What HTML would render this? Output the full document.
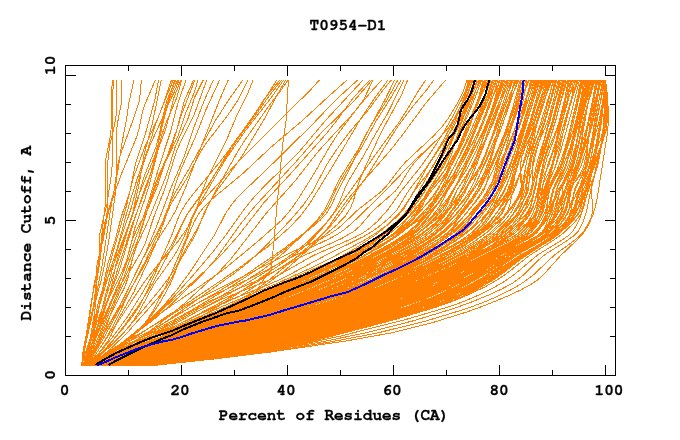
<!DOCTYPE html>
<html><head><meta charset="utf-8"><style>
html,body{margin:0;padding:0;background:#fff;width:680px;height:440px;overflow:hidden}
svg{display:block}
</style></head><body>
<svg width="680" height="440" viewBox="0 0 680 440">
<rect width="680" height="440" fill="#fff"/>
<g shape-rendering="crispEdges">
<path fill="none" stroke="#ff8000" stroke-width="1" d="M112.3 80.0 L111.6 94.0 L111.0 130.2 L109.9 139.2 L106.0 158.3 L105.8 200.4 L102.2 230.5 L100.9 252.6 L99.6 260.6 L94.4 282.7 L89.0 320.8 L87.5 335.9 L81.2 366.0 M113.7 80.0 L112.3 98.1 L112.3 162.3 L111.7 172.3 L106.9 204.4 L100.1 232.5 L99.3 240.6 L99.0 258.6 L98.2 266.7 L91.0 303.8 L81.5 366.0 M116.6 80.0 L116.6 106.1 L116.0 116.1 L114.5 125.2 L109.6 146.2 L107.5 164.3 L107.4 206.4 L106.9 214.5 L100.6 245.6 L97.6 275.7 L92.1 315.8 L85.2 345.9 L81.8 366.0 M121.9 80.0 L121.8 101.1 L117.7 122.1 L116.2 133.2 L116.1 182.4 L115.0 196.4 L108.8 240.6 L104.4 265.6 L101.0 280.7 L84.5 342.9 L82.9 353.0 L82.1 366.0 M134.0 80.0 L129.0 102.1 L126.2 121.1 L121.9 143.2 L118.3 168.3 L111.2 205.4 L102.2 264.6 L95.8 296.8 L87.7 329.9 L82.3 366.0 M141.4 80.0 L139.5 100.1 L133.7 118.1 L119.8 156.3 L117.4 167.3 L114.0 191.4 L104.9 222.5 L102.7 236.5 L100.1 259.6 L96.8 280.7 L95.7 302.8 L94.7 311.8 L88.5 348.9 L86.2 357.0 L82.6 366.0 M155.4 80.0 L144.6 105.1 L142.4 112.1 L138.9 129.2 L136.6 137.2 L120.9 175.3 L111.1 203.4 L107.7 214.5 L103.0 240.6 L97.6 261.6 L96.2 269.7 L95.8 299.8 L92.7 334.9 L88.4 350.9 L82.9 366.0 M158.5 80.0 L154.8 100.1 L144.7 136.2 L135.3 164.3 L130.0 191.4 L121.3 216.5 L115.4 239.6 L107.9 263.6 L95.4 322.8 L87.9 347.9 L83.2 366.0 M161.3 80.0 L152.4 123.2 L144.2 154.3 L139.0 184.4 L132.6 213.5 L129.7 222.5 L114.7 261.6 L103.7 286.7 L100.3 295.8 L97.8 304.8 L92.7 330.9 L85.2 353.0 L83.5 366.0 M171.5 80.0 L162.9 105.1 L155.2 125.2 L148.2 148.2 L137.7 177.3 L132.2 194.4 L126.3 214.5 L118.3 244.6 L109.6 271.7 L95.1 320.8 L83.7 366.0 M173.2 80.0 L158.7 116.1 L144.7 147.2 L133.2 178.3 L125.8 208.4 L113.7 249.6 L103.9 285.7 L99.1 306.8 L92.6 340.9 L88.4 355.0 L84.0 366.0 M174.6 80.0 L163.8 115.1 L149.6 146.2 L144.8 159.3 L138.0 182.4 L131.4 207.4 L118.5 245.6 L94.9 335.9 L87.1 357.0 L84.3 366.0 M175.9 80.0 L167.0 100.1 L164.1 111.1 L159.2 135.2 L155.9 147.2 L143.8 177.3 L136.7 203.4 L127.8 229.5 L120.6 253.6 L112.2 276.7 L103.7 304.8 L88.8 343.9 L86.8 352.0 L84.6 366.0 M177.7 80.0 L173.5 89.0 L169.1 100.1 L164.1 118.1 L157.9 145.2 L154.7 156.3 L138.7 195.4 L119.3 252.6 L116.2 263.6 L111.7 285.7 L108.4 297.8 L91.0 346.9 L84.9 366.0 M179.0 80.0 L174.7 91.0 L167.9 105.1 L164.0 115.1 L160.5 129.2 L156.7 154.3 L154.5 163.3 L145.7 186.4 L134.8 218.5 L118.9 271.7 L103.7 308.8 L97.0 326.9 L85.1 366.0 M180.7 80.0 L173.8 98.1 L166.0 128.2 L155.1 157.3 L147.9 183.4 L132.6 223.5 L118.8 265.6 L109.4 296.8 L94.6 335.9 L85.4 366.0 M181.6 80.0 L177.0 97.1 L166.3 122.1 L161.7 135.2 L149.4 184.4 L145.1 198.4 L135.0 227.5 L129.1 251.6 L126.2 261.6 L120.9 274.7 L110.9 293.7 L107.3 301.8 L99.9 325.9 L90.0 348.9 L85.7 366.0 M186.0 80.0 L177.9 103.1 L170.1 133.2 L159.8 164.3 L147.4 205.4 L123.3 272.7 L95.9 335.9 L86.0 366.0 M193.6 80.0 L184.6 100.1 L176.9 129.2 L167.9 154.3 L157.7 185.4 L148.6 207.4 L136.8 229.5 L133.1 237.6 L130.1 246.6 L124.8 267.7 L121.5 277.7 L96.1 337.9 L86.0 366.0 M194.9 80.0 L181.3 115.1 L171.6 147.2 L159.9 172.3 L155.2 184.4 L139.9 232.5 L130.8 264.6 L126.3 274.7 L116.5 291.7 L112.1 300.8 L99.3 334.9 L86.3 366.0 M198.0 80.0 L194.5 92.0 L186.1 112.1 L177.9 136.2 L164.4 164.3 L158.6 178.3 L148.5 206.4 L140.3 233.5 L130.7 257.6 L121.2 284.7 L107.9 315.8 L96.2 345.9 L86.5 366.0 M203.3 80.0 L194.7 97.1 L188.2 118.1 L175.4 146.2 L168.4 169.3 L164.8 179.3 L148.7 219.5 L136.0 247.6 L132.8 257.6 L128.0 277.7 L124.9 286.7 L108.1 319.8 L96.8 346.9 L86.7 366.0 M206.8 80.0 L194.3 114.1 L180.4 142.2 L176.1 152.3 L165.0 188.4 L154.0 216.5 L145.1 243.6 L141.2 251.6 L129.1 272.7 L121.5 287.7 L113.6 305.8 L103.3 335.9 L86.9 366.0 M213.4 80.0 L204.4 100.1 L193.6 128.2 L184.3 156.3 L171.2 187.4 L156.9 225.5 L144.8 254.6 L123.0 299.8 L97.2 344.9 L87.2 366.0 M219.6 80.0 L205.8 110.1 L195.7 136.2 L180.5 170.3 L175.8 183.4 L168.1 208.4 L161.6 224.5 L142.8 258.6 L117.4 310.8 L97.8 344.9 L87.4 366.0 M228.2 80.0 L220.7 97.1 L198.5 153.3 L186.5 185.4 L176.2 209.5 L170.1 220.5 L155.3 243.6 L142.4 268.7 L130.2 289.7 L104.9 335.9 L92.3 357.0 L87.7 366.0 M242.9 80.0 L228.5 100.1 L215.1 121.1 L190.4 166.3 L175.3 192.4 L168.5 206.4 L158.5 232.5 L145.6 260.6 L130.0 290.7 L114.8 322.8 L105.2 339.9 L87.9 366.0 M248.1 80.0 L238.0 100.1 L234.7 105.1 L225.6 118.1 L207.7 141.2 L201.5 150.2 L186.9 178.3 L171.9 202.4 L167.1 212.5 L158.9 236.5 L147.1 263.6 L134.0 291.7 L119.7 316.8 L110.8 335.9 L107.9 340.9 L101.4 349.9 L88.1 366.0 M253.1 80.0 L247.6 94.0 L236.5 116.1 L226.0 141.2 L207.0 179.3 L202.5 190.4 L195.2 212.5 L189.0 225.5 L177.9 241.6 L155.4 267.7 L144.5 281.7 L122.0 315.8 L96.5 353.0 L88.3 366.0 M276.8 80.0 L259.1 108.1 L232.2 145.2 L209.0 184.4 L187.8 213.5 L171.7 244.6 L156.6 267.7 L143.1 291.7 L127.5 316.8 L113.6 335.9 L88.6 366.0 M279.7 80.0 L264.3 99.1 L248.1 124.2 L220.5 161.3 L192.9 194.4 L185.4 204.4 L179.1 215.5 L172.0 234.5 L155.9 271.7 L145.8 293.7 L138.8 306.8 L131.4 317.8 L121.8 329.9 L103.4 350.9 L88.8 366.0 M281.7 80.0 L268.9 96.1 L256.4 114.1 L238.2 138.2 L207.7 185.4 L188.1 212.5 L183.7 220.5 L177.5 235.5 L171.2 248.6 L153.1 282.7 L141.2 301.8 L125.6 323.9 L111.3 342.9 L101.4 354.0 L89.0 366.0 M283.6 80.0 L272.4 96.1 L245.1 131.2 L227.0 157.3 L195.8 209.5 L191.0 219.5 L183.4 238.6 L177.9 249.6 L172.2 258.6 L153.6 284.7 L139.0 311.8 L133.4 320.8 L121.3 335.9 L89.2 366.0 M285.8 80.0 L277.7 94.0 L264.3 119.1 L243.1 154.3 L235.0 166.3 L216.4 191.4 L209.9 201.4 L204.8 211.5 L197.6 229.5 L193.7 237.6 L184.4 253.6 L169.7 276.7 L159.1 290.7 L127.2 328.9 L113.7 342.9 L89.5 366.0 M288.0 80.0 L281.9 89.0 L268.0 107.1 L244.9 140.2 L238.5 150.2 L213.8 194.4 L196.7 229.5 L184.1 251.6 L172.5 276.7 L165.9 287.7 L157.2 298.8 L126.2 333.9 L109.3 349.9 L89.7 366.0 M319.4 80.0 L308.6 92.0 L289.7 110.1 L239.5 160.3 L206.7 196.4 L198.5 206.4 L192.8 216.5 L186.5 237.6 L165.6 286.7 L153.0 310.8 L148.0 318.8 L142.9 325.9 L133.5 335.9 L123.5 343.9 L106.3 356.0 L89.9 366.0 M347.1 80.0 L330.0 95.1 L301.8 121.1 L271.0 147.2 L243.1 173.3 L214.0 197.4 L204.5 206.4 L198.2 214.5 L193.9 222.5 L184.6 244.6 L175.9 270.7 L170.4 283.7 L161.7 299.8 L151.9 314.8 L141.3 327.9 L128.3 339.9 L110.7 353.0 L89.9 366.0 M357.7 80.0 L335.6 100.1 L311.7 125.2 L266.9 169.3 L242.5 192.4 L234.0 201.4 L226.1 212.5 L214.8 234.5 L189.5 272.7 L176.3 290.7 L162.5 306.8 L150.4 318.8 L137.8 329.9 L109.2 353.0 L90.2 366.0 M363.1 80.0 L324.9 121.1 L298.0 153.3 L265.1 185.4 L253.8 197.4 L244.0 209.5 L227.0 233.5 L213.1 251.6 L191.9 276.7 L175.5 294.8 L153.8 316.8 L138.2 330.9 L118.7 345.9 L90.6 366.0 M369.7 80.0 L353.1 98.1 L336.3 121.1 L325.9 134.2 L289.2 175.3 L264.2 202.4 L237.6 236.5 L220.6 255.6 L198.9 276.7 L171.8 300.8 L145.9 324.9 L134.5 333.9 L113.4 348.9 L90.9 366.0 M372.0 80.0 L354.8 100.1 L320.9 133.2 L296.4 161.3 L254.8 206.4 L240.2 224.5 L215.3 259.6 L201.1 275.7 L170.6 304.8 L154.6 318.8 L110.2 353.0 L91.2 366.0 M373.1 80.0 L363.4 100.1 L337.0 135.2 L330.0 146.2 L312.4 176.3 L297.3 200.4 L289.4 211.5 L281.4 220.5 L257.6 241.6 L224.7 268.7 L209.5 279.7 L162.4 311.8 L91.5 366.0 M381.7 80.0 L370.9 92.0 L352.5 114.1 L318.4 151.2 L294.7 181.4 L266.0 213.5 L231.2 258.6 L218.3 272.7 L182.9 304.8 L168.4 316.8 L154.1 327.9 L142.9 335.9 L130.1 343.9 L91.8 366.0 M388.0 80.0 L373.2 100.1 L360.5 119.1 L336.8 159.3 L310.5 202.4 L300.8 215.5 L290.6 226.5 L267.9 246.6 L236.9 269.7 L189.5 301.8 L144.6 330.9 L92.2 366.0 M391.4 80.0 L382.3 91.0 L369.0 109.1 L349.5 132.2 L335.4 151.2 L326.4 165.3 L312.7 191.4 L303.8 204.4 L290.1 220.5 L258.1 253.6 L246.8 263.6 L233.8 273.7 L168.7 319.8 L132.5 342.9 L92.4 366.0 M394.6 80.0 L385.8 98.1 L365.7 135.2 L348.3 171.3 L338.2 190.4 L330.8 206.4 L326.3 213.5 L319.9 220.5 L310.4 228.5 L282.6 249.6 L242.9 276.7 L221.5 289.7 L177.2 314.8 L142.1 336.9 L92.8 366.0 M397.8 80.0 L386.9 100.1 L370.4 126.2 L357.2 151.2 L339.9 178.3 L324.9 209.5 L317.5 219.5 L307.7 229.5 L293.4 242.6 L279.6 253.6 L258.3 268.7 L232.5 285.7 L194.0 308.8 L143.1 336.9 L93.1 366.0 M401.0 80.0 L391.9 96.1 L376.7 120.1 L361.8 147.2 L341.5 179.3 L336.1 189.4 L329.3 204.4 L325.3 211.5 L321.5 216.5 L316.0 222.5 L283.9 252.6 L272.3 262.6 L260.1 271.7 L223.3 294.8 L177.5 320.8 L118.7 353.0 L93.4 366.0 M404.1 80.0 L387.2 114.1 L374.8 135.2 L363.3 156.3 L348.8 180.4 L344.9 188.4 L338.5 204.4 L334.8 211.5 L325.9 223.5 L309.1 240.6 L297.2 250.6 L283.1 260.6 L261.1 274.7 L232.9 291.7 L147.8 338.9 L93.7 366.0 M407.6 80.0 L401.5 95.1 L381.2 132.2 L363.7 170.3 L357.7 185.4 L353.2 201.4 L350.8 207.4 L345.8 215.5 L337.3 224.5 L315.0 243.6 L300.5 254.6 L282.4 266.7 L255.7 282.7 L223.7 300.8 L189.8 318.8 L94.0 366.0 M425.7 80.0 L417.7 92.0 L406.9 110.1 L398.4 123.2 L373.5 157.3 L356.3 182.4 L331.7 216.5 L318.6 232.5 L311.0 240.6 L303.3 247.6 L287.5 259.6 L236.2 294.8 L220.7 304.8 L205.5 313.8 L182.9 325.9 L151.7 340.9 L123.0 354.0 L94.2 366.0 M433.7 80.0 L427.3 89.0 L410.7 109.1 L399.4 124.2 L390.2 138.2 L367.5 175.3 L337.7 217.5 L330.9 225.5 L322.0 234.5 L293.7 259.6 L271.8 277.7 L257.2 288.7 L243.5 297.8 L225.8 307.8 L199.8 320.8 L167.1 335.9 L125.0 354.0 L94.5 366.0 M445.6 80.0 L425.1 104.1 L402.2 135.2 L389.7 151.2 L350.1 196.4 L341.9 207.4 L329.6 225.5 L323.3 233.5 L306.0 251.6 L284.6 270.7 L267.4 283.7 L246.4 297.8 L225.0 310.8 L204.5 321.8 L185.4 330.9 L163.9 339.9 L127.9 354.0 L94.8 366.0 M467.0 80.0 L463.3 91.0 L458.1 102.1 L448.5 118.1 L441.9 127.2 L433.2 136.2 L405.3 162.3 L399.3 169.3 L387.8 184.4 L381.4 191.4 L357.1 210.5 L342.6 224.5 L336.6 229.5 L330.6 233.5 L321.3 238.6 L286.5 254.6 L192.7 301.8 L144.5 330.9 L112.2 348.9 L99.6 358.0 L90.3 366.0 M468.1 80.0 L466.2 91.0 L461.9 103.1 L453.2 121.1 L447.5 129.2 L437.9 139.2 L411.5 163.3 L380.8 195.4 L352.7 222.5 L344.5 229.5 L338.6 233.5 L329.6 238.6 L296.4 254.6 L253.9 276.7 L210.0 296.8 L198.0 302.8 L152.5 329.9 L112.6 349.9 L100.7 358.0 L91.0 366.0 M469.1 80.0 L466.9 90.0 L462.9 101.1 L455.1 117.1 L449.6 126.2 L441.7 135.2 L422.1 154.3 L414.7 162.3 L409.5 169.3 L399.6 185.4 L395.0 191.4 L373.3 210.5 L360.4 225.5 L353.7 231.5 L341.4 238.6 L303.8 255.6 L256.8 280.7 L208.4 301.8 L157.0 330.9 L116.0 348.9 L101.5 358.0 L91.7 366.0 M470.1 80.0 L462.2 98.1 L451.9 118.1 L442.6 134.2 L430.9 152.3 L419.5 168.3 L401.6 190.4 L388.0 209.5 L377.3 221.5 L368.1 229.5 L362.1 233.5 L354.3 237.6 L313.1 255.6 L281.2 273.7 L267.7 280.7 L217.9 300.8 L203.9 307.8 L163.7 329.9 L118.9 348.9 L103.2 358.0 L92.4 366.0 M471.2 80.0 L463.7 99.1 L454.5 119.1 L445.1 137.2 L434.4 155.3 L425.8 168.3 L408.8 190.4 L397.2 209.5 L389.9 217.5 L379.1 226.5 L372.2 231.5 L363.7 236.5 L326.9 254.6 L284.0 277.7 L268.4 284.7 L225.4 301.8 L167.0 329.9 L124.7 347.9 L107.4 357.0 L93.1 366.0 M472.2 80.0 L468.7 92.0 L464.2 104.1 L457.2 120.1 L452.9 128.2 L428.8 164.3 L404.2 208.4 L397.3 216.5 L386.4 225.5 L375.2 233.5 L361.9 241.6 L331.7 257.6 L311.6 267.7 L276.5 283.7 L232.9 301.8 L166.9 330.9 L125.2 347.9 L107.8 357.0 L93.8 366.0 M473.2 80.0 L443.3 147.2 L433.3 166.3 L415.5 189.4 L405.2 205.4 L399.9 212.5 L389.2 223.5 L376.0 234.5 L354.9 248.6 L340.8 256.6 L330.7 261.6 L219.2 309.8 L129.9 346.9 L111.5 356.0 L94.5 366.0 M474.3 80.0 L466.8 102.1 L456.8 125.2 L450.7 136.2 L434.3 163.3 L413.8 200.4 L408.6 208.4 L402.7 215.5 L394.2 223.5 L384.3 231.5 L372.6 239.6 L359.2 247.6 L340.8 257.6 L324.3 265.6 L283.8 283.7 L186.4 324.9 L127.8 347.9 L109.7 357.0 L95.2 366.0 M475.6 80.0 L467.6 102.1 L457.8 125.2 L447.4 146.2 L433.4 171.3 L415.3 200.4 L409.0 209.5 L398.0 221.5 L385.2 232.5 L375.1 239.6 L363.6 246.6 L345.4 256.6 L333.1 262.6 L190.2 324.9 L170.6 332.9 L127.8 348.9 L109.1 358.0 L95.5 366.0 M477.1 80.0 L469.8 101.1 L460.5 123.2 L438.9 163.3 L425.5 190.4 L418.3 201.4 L409.3 212.5 L400.1 221.5 L387.8 231.5 L376.2 239.6 L363.0 247.6 L346.6 256.6 L332.1 263.6 L254.6 297.8 L203.0 319.8 L173.4 331.9 L127.5 348.9 L108.9 358.0 L95.6 366.0 M478.4 80.0 L460.0 121.1 L446.3 155.3 L438.6 170.3 L416.7 202.4 L410.6 210.5 L399.1 222.5 L384.7 234.5 L373.1 242.6 L359.9 250.6 L347.2 257.6 L332.6 264.6 L265.7 293.7 L210.8 316.8 L173.6 331.9 L128.4 348.9 L109.6 358.0 L95.6 366.0 M479.5 80.0 L471.4 103.1 L461.6 127.2 L451.2 149.2 L431.9 187.4 L424.0 199.4 L414.2 211.5 L403.1 222.5 L390.8 232.5 L379.2 240.6 L366.0 248.6 L351.4 256.6 L338.8 262.6 L253.1 299.8 L212.4 316.8 L174.8 331.9 L128.6 348.9 L109.6 358.0 L95.6 366.0 M480.7 80.0 L471.4 99.1 L463.6 117.1 L459.6 128.2 L451.2 155.3 L445.1 169.3 L439.2 178.3 L427.9 193.4 L412.6 211.5 L402.1 225.5 L393.6 233.5 L386.2 238.6 L375.6 244.6 L352.1 256.6 L337.1 263.6 L235.3 307.8 L177.4 330.9 L129.5 348.9 L112.2 357.0 L95.7 366.0 M481.9 80.0 L472.5 104.1 L461.0 131.2 L452.1 150.2 L443.8 166.3 L428.7 189.4 L420.3 205.4 L415.7 212.5 L406.0 223.5 L394.4 233.5 L385.4 239.6 L371.4 247.6 L352.3 257.6 L337.2 264.6 L260.3 297.8 L211.7 317.8 L175.9 331.9 L128.3 348.9 L109.3 358.0 L95.7 366.0 M483.0 80.0 L478.5 98.1 L471.4 119.1 L465.1 134.2 L456.8 150.2 L446.7 167.3 L430.0 189.4 L422.1 206.4 L418.5 212.5 L410.6 221.5 L398.9 231.5 L387.9 238.6 L372.6 246.6 L334.2 265.6 L294.9 283.7 L252.7 301.8 L203.1 321.8 L177.1 331.9 L128.9 348.9 L109.6 358.0 L95.8 366.0 M484.2 80.0 L478.8 100.1 L471.0 123.2 L463.3 142.2 L455.0 159.3 L448.2 170.3 L429.5 193.4 L408.4 225.5 L404.1 230.5 L400.6 233.5 L387.1 241.6 L347.3 260.6 L282.8 289.7 L247.1 304.8 L206.7 320.8 L177.7 331.9 L129.9 348.9 L110.2 358.0 L95.8 366.0 M485.3 80.0 L477.9 102.1 L469.2 124.2 L438.1 189.4 L431.0 199.4 L419.1 212.5 L408.3 222.5 L395.7 232.5 L377.9 244.6 L357.2 256.6 L339.4 265.6 L315.2 276.7 L282.7 290.7 L237.6 308.8 L179.3 330.9 L129.1 348.9 L109.8 358.0 L95.9 366.0 M486.5 80.0 L468.9 121.1 L454.7 158.3 L450.1 168.3 L444.6 178.3 L433.5 195.4 L419.5 212.5 L406.4 226.5 L394.3 236.5 L380.9 245.6 L363.6 255.6 L351.8 261.6 L336.2 268.7 L279.8 292.7 L242.5 307.8 L181.4 330.9 L130.5 348.9 L110.6 358.0 L95.9 366.0 M487.7 80.0 L459.5 148.2 L452.7 163.3 L437.4 189.4 L431.4 205.4 L428.9 210.5 L425.6 214.5 L419.6 219.5 L390.6 239.6 L376.7 248.6 L360.9 257.6 L344.2 265.6 L285.7 290.7 L228.0 313.8 L179.6 331.9 L128.6 348.9 L109.2 358.0 L95.9 366.0 M488.8 80.0 L478.2 101.1 L468.9 121.1 L444.7 181.4 L439.8 191.4 L432.7 201.4 L421.2 214.5 L410.6 224.5 L398.1 234.5 L380.0 246.6 L358.7 258.6 L339.6 267.7 L289.4 289.7 L260.6 301.8 L226.6 314.8 L179.7 331.9 L130.1 348.9 L110.2 358.0 L96.0 366.0 M490.0 80.0 L483.4 103.1 L474.4 127.2 L465.6 145.2 L444.1 185.4 L434.4 200.4 L424.7 212.5 L413.1 223.5 L399.2 234.5 L381.1 246.6 L360.0 258.6 L339.3 268.7 L303.1 284.7 L269.3 298.8 L235.2 311.8 L179.4 331.9 L129.4 348.9 L109.8 358.0 L96.0 366.0 M491.1 80.0 L480.4 108.1 L468.1 137.2 L456.1 163.3 L444.8 185.4 L434.5 202.4 L425.6 214.5 L415.6 225.5 L405.0 234.5 L389.1 244.6 L361.1 259.6 L339.5 269.7 L298.0 287.7 L268.7 299.8 L239.5 310.8 L180.3 331.9 L133.3 347.9 L112.7 357.0 L96.1 366.0 M492.3 80.0 L483.9 105.1 L471.8 137.2 L465.6 152.3 L459.1 165.3 L453.4 174.3 L426.5 210.5 L416.4 225.5 L411.0 231.5 L405.9 235.5 L392.6 243.6 L359.6 260.6 L336.0 271.7 L306.2 284.7 L266.2 300.8 L221.1 317.8 L182.1 331.9 L131.5 348.9 L111.0 358.0 L96.1 366.0 M493.5 80.0 L485.0 104.1 L475.0 129.2 L464.6 152.3 L453.3 174.3 L442.5 192.4 L420.7 222.5 L414.7 229.5 L408.8 234.5 L394.1 243.6 L361.0 260.6 L337.3 271.7 L295.9 289.7 L271.2 299.8 L249.6 307.8 L136.7 346.9 L115.4 356.0 L96.1 366.0 M494.6 80.0 L487.8 100.1 L479.0 122.1 L458.9 163.3 L450.7 183.4 L447.3 190.4 L440.1 200.4 L424.0 218.5 L414.8 227.5 L404.7 235.5 L387.5 246.6 L362.0 260.6 L338.7 271.7 L297.7 289.7 L270.5 300.8 L246.0 309.8 L133.1 347.9 L112.4 357.0 L96.2 366.0 M495.8 80.0 L489.9 101.1 L481.6 124.2 L473.2 142.2 L459.9 167.3 L441.0 198.4 L432.8 210.5 L420.5 225.5 L415.3 230.5 L409.0 235.5 L391.4 246.6 L365.1 260.6 L291.9 292.7 L266.8 302.8 L236.5 313.8 L183.9 331.9 L131.7 348.9 L111.0 358.0 L96.2 366.0 M497.0 80.0 L479.3 121.1 L464.9 157.3 L455.1 177.3 L444.1 195.4 L425.0 221.5 L419.0 228.5 L411.8 234.5 L396.4 243.6 L352.9 265.6 L316.5 282.7 L286.7 295.8 L246.6 310.8 L135.1 347.9 L113.6 357.0 L96.3 366.0 M498.1 80.0 L490.7 103.1 L481.6 127.2 L472.5 148.2 L462.8 167.3 L448.5 189.4 L440.0 205.4 L435.2 212.5 L424.4 223.5 L409.5 235.5 L390.5 247.6 L366.7 260.6 L341.1 272.7 L299.5 290.7 L274.4 300.8 L252.2 308.8 L135.5 347.9 L114.0 357.0 L96.3 366.0 M499.3 80.0 L494.3 101.1 L486.5 124.2 L480.8 136.2 L466.1 163.3 L453.7 190.4 L445.6 203.4 L435.4 216.5 L425.9 226.5 L416.1 234.5 L398.1 245.6 L369.4 260.6 L347.3 270.7 L293.5 293.7 L273.0 301.8 L247.6 310.8 L134.2 347.9 L113.0 357.0 L96.3 366.0 M500.4 80.0 L490.8 101.1 L482.9 120.1 L468.5 161.3 L459.6 179.3 L448.3 197.4 L436.8 212.5 L424.4 225.5 L410.9 236.5 L391.9 248.6 L368.1 261.6 L342.3 273.7 L305.2 289.7 L279.7 299.8 L254.5 308.8 L135.2 347.9 L113.6 357.0 L96.4 366.0 M501.6 80.0 L493.1 106.1 L483.1 131.2 L465.1 168.3 L447.0 202.4 L441.9 210.5 L435.0 218.5 L425.3 227.5 L415.0 235.5 L396.0 247.6 L371.9 260.6 L347.7 271.7 L305.2 289.7 L277.1 300.8 L251.8 309.8 L136.0 347.9 L114.1 357.0 L96.4 366.0 M502.8 80.0 L491.4 113.1 L476.9 149.2 L468.0 167.3 L453.4 190.4 L445.4 208.4 L441.9 213.5 L436.0 219.5 L412.9 237.6 L392.5 250.6 L372.2 261.6 L346.2 273.7 L306.3 290.7 L280.4 300.8 L257.6 308.8 L135.7 347.9 L113.9 357.0 L96.5 366.0 M503.9 80.0 L488.6 121.1 L478.0 154.3 L472.4 167.3 L457.4 189.4 L449.2 205.4 L444.7 212.5 L434.5 223.5 L419.8 235.5 L401.9 246.6 L373.9 261.6 L348.2 273.7 L315.2 287.7 L289.3 297.8 L263.9 306.8 L137.3 347.9 L115.0 357.0 L96.5 366.0 M505.1 80.0 L475.1 159.3 L470.2 169.3 L457.4 189.4 L449.5 208.4 L446.1 213.5 L441.2 218.5 L421.7 233.5 L402.5 245.6 L369.7 263.6 L343.2 276.7 L317.9 287.7 L292.0 297.8 L266.4 306.8 L136.9 347.9 L114.6 357.0 L96.6 366.0 M506.2 80.0 L497.9 107.1 L488.1 134.2 L476.6 161.3 L464.9 185.4 L456.0 199.4 L443.8 214.5 L431.9 226.5 L419.2 236.5 L398.2 249.6 L372.3 263.6 L342.4 277.7 L309.3 291.7 L285.6 300.8 L264.9 307.8 L139.3 346.9 L116.6 356.0 L96.6 366.0 M507.4 80.0 L501.4 101.1 L493.3 123.2 L488.2 134.2 L473.0 163.3 L461.1 190.4 L454.1 201.4 L439.6 220.5 L432.1 228.5 L424.8 234.5 L410.0 243.6 L364.7 267.7 L341.8 278.7 L318.2 288.7 L291.9 298.8 L265.6 307.8 L136.3 347.9 L114.1 357.0 L96.6 366.0 M508.6 80.0 L494.0 114.1 L489.2 127.2 L477.9 161.3 L472.2 175.3 L467.3 185.4 L461.8 194.4 L448.5 210.5 L438.1 224.5 L432.5 230.5 L426.2 235.5 L411.3 244.6 L371.2 265.6 L343.5 278.7 L317.3 289.7 L293.5 298.8 L273.1 305.8 L201.1 327.9 L141.5 346.9 L118.1 356.0 L96.7 366.0 M509.7 80.0 L488.9 132.2 L469.3 183.4 L464.6 193.4 L457.4 204.4 L447.6 216.5 L436.1 227.5 L423.1 237.6 L402.2 250.6 L379.6 262.6 L350.7 275.7 L307.8 293.7 L271.3 306.8 L200.9 327.9 L143.5 345.9 L117.5 356.0 L96.7 366.0 M510.9 80.0 L496.4 122.1 L487.4 151.2 L481.3 166.3 L477.0 173.3 L465.0 189.4 L453.6 207.4 L443.9 221.5 L437.0 229.5 L429.7 235.5 L414.5 244.6 L368.4 268.7 L344.8 279.7 L320.6 289.7 L296.3 298.8 L272.5 306.8 L141.0 346.9 L117.6 356.0 L96.8 366.0 M512.0 80.0 L505.0 103.1 L495.8 129.2 L487.8 149.2 L479.8 166.3 L444.8 222.5 L438.3 230.5 L430.8 236.5 L415.5 245.6 L376.6 265.6 L345.7 279.7 L314.1 292.7 L292.4 300.8 L274.1 306.8 L202.6 327.9 L144.2 345.9 L117.8 356.0 L96.8 366.0 M513.2 80.0 L485.6 153.3 L475.6 178.3 L471.0 188.4 L465.3 197.4 L444.9 223.5 L438.3 230.5 L430.6 236.5 L414.1 246.6 L380.0 264.6 L347.3 279.7 L313.4 293.7 L294.3 300.8 L275.8 306.8 L202.7 327.9 L143.2 345.9 L117.0 356.0 L96.8 366.0 M514.4 80.0 L509.9 101.1 L502.5 125.2 L497.5 137.2 L474.3 186.4 L469.2 194.4 L455.3 210.5 L443.7 226.5 L437.8 232.5 L431.1 237.6 L414.2 247.6 L381.5 264.6 L348.0 279.7 L316.2 292.7 L294.3 300.8 L276.0 306.8 L204.0 327.9 L141.8 346.9 L118.1 356.0 L96.9 366.0 M515.5 80.0 L507.9 104.1 L499.2 128.2 L477.3 180.4 L470.8 193.4 L462.3 206.4 L452.8 217.5 L439.5 229.5 L424.8 240.6 L404.0 253.6 L383.3 264.6 L352.5 278.7 L320.6 291.7 L295.8 300.8 L277.2 306.8 L204.8 327.9 L145.8 345.9 L118.8 356.0 L96.9 366.0 M516.7 80.0 L507.9 99.1 L501.4 116.1 L497.9 128.2 L491.6 156.3 L488.7 165.3 L486.4 170.3 L464.1 204.4 L457.2 213.5 L444.8 226.5 L430.9 237.6 L409.5 250.6 L383.3 264.6 L348.4 280.7 L314.4 294.8 L295.0 301.8 L276.2 307.8 L140.9 346.9 L117.2 356.0 L106.3 361.0 L97.0 366.0 M517.8 80.0 L501.3 128.2 L480.9 181.4 L476.4 191.4 L468.2 204.4 L456.3 219.5 L446.2 229.5 L435.7 237.6 L415.6 249.6 L388.8 263.6 L352.9 279.7 L318.3 293.7 L296.0 301.8 L277.0 307.8 L206.7 327.9 L142.7 346.9 L118.5 356.0 L97.0 366.0 M519.0 80.0 L510.8 98.1 L504.0 115.1 L499.7 128.2 L490.6 161.3 L486.8 171.3 L481.5 182.4 L472.3 197.4 L455.6 218.5 L446.2 228.5 L435.9 236.5 L419.2 246.6 L376.5 269.7 L350.9 281.7 L326.4 291.7 L301.4 300.8 L282.5 306.8 L207.7 327.9 L142.9 346.9 L118.5 356.0 L97.1 366.0 M520.2 80.0 L513.5 105.1 L504.8 133.2 L497.9 152.3 L491.3 167.3 L476.7 190.4 L468.0 205.4 L462.4 213.5 L450.8 226.5 L445.2 231.5 L438.4 236.5 L418.4 248.6 L386.0 265.6 L350.7 281.7 L318.7 294.8 L299.0 301.8 L279.8 307.8 L207.7 327.9 L142.1 346.9 L118.0 356.0 L97.1 366.0 M521.3 80.0 L515.6 103.1 L507.5 128.2 L498.7 149.2 L481.0 187.4 L472.0 201.4 L457.5 219.5 L446.6 230.5 L436.0 238.6 L413.0 252.6 L386.6 266.7 L356.0 280.7 L326.1 292.7 L303.5 300.8 L284.3 306.8 L207.8 327.9 L146.4 345.9 L118.9 356.0 L97.1 366.0 M522.5 80.0 L515.6 103.1 L507.1 127.2 L498.4 148.2 L482.6 183.4 L476.7 193.4 L462.7 210.5 L452.7 227.5 L448.3 232.5 L443.1 236.5 L429.4 244.6 L379.1 270.7 L352.8 282.7 L325.3 293.7 L305.4 300.8 L286.0 306.8 L207.8 327.9 L149.7 344.9 L121.6 355.0 L97.2 366.0 M523.6 80.0 L519.0 99.1 L511.9 121.1 L507.7 131.2 L493.2 161.3 L490.3 169.3 L486.1 184.4 L483.3 191.4 L478.6 198.4 L456.9 224.5 L449.8 231.5 L441.7 237.6 L423.2 248.6 L385.9 268.7 L362.3 279.7 L337.4 289.7 L311.9 298.8 L289.7 305.8 L209.1 327.9 L147.7 345.9 L119.8 356.0 L97.2 366.0 M524.8 80.0 L510.0 121.1 L497.3 159.3 L491.5 173.3 L485.0 186.4 L475.5 201.4 L461.2 219.5 L450.2 230.5 L438.3 239.6 L411.7 255.6 L389.2 267.7 L361.1 280.7 L333.5 291.7 L310.6 299.8 L291.4 305.8 L210.1 327.9 L148.3 345.9 L120.1 356.0 L97.3 366.0 M526.0 80.0 L512.9 121.1 L497.3 162.3 L491.6 184.4 L488.5 192.4 L483.5 199.4 L461.8 223.5 L454.3 230.5 L444.9 237.6 L421.3 251.6 L392.5 266.7 L354.4 283.7 L324.3 295.8 L307.0 301.8 L290.3 306.8 L209.9 327.9 L150.7 344.9 L122.2 355.0 L97.3 366.0 M527.1 80.0 L523.0 101.1 L516.2 125.2 L511.5 137.2 L499.4 164.3 L489.9 188.4 L485.5 195.4 L472.3 210.5 L460.0 226.5 L453.8 232.5 L445.7 238.6 L416.2 255.6 L394.6 266.7 L356.6 283.7 L326.6 295.8 L309.2 301.8 L292.4 306.8 L210.6 327.9 L150.2 344.9 L121.5 355.0 L107.4 361.0 L97.3 366.0 M528.3 80.0 L513.4 122.1 L499.9 156.3 L497.3 166.3 L494.7 185.4 L492.8 192.4 L488.0 198.4 L475.3 209.5 L457.9 226.5 L446.8 235.5 L433.9 244.6 L411.1 258.6 L388.8 270.7 L365.0 281.7 L339.4 291.7 L316.0 299.8 L296.2 305.8 L212.0 327.9 L152.2 344.9 L123.0 355.0 L97.4 366.0 M529.4 80.0 L521.4 99.1 L514.7 117.1 L511.3 128.2 L503.8 156.3 L498.1 171.3 L482.8 198.4 L468.0 222.5 L461.5 230.5 L454.0 236.5 L440.2 244.6 L389.8 270.7 L365.4 281.7 L337.3 292.7 L314.0 300.8 L293.8 306.8 L212.6 327.9 L152.3 344.9 L123.0 355.0 L97.4 366.0 M530.7 80.0 L525.5 104.1 L517.7 130.2 L505.9 158.3 L498.8 173.3 L492.5 185.4 L481.1 203.4 L469.7 217.5 L454.9 231.5 L438.5 243.6 L414.0 258.6 L391.8 270.7 L368.1 281.7 L342.2 291.7 L318.5 299.8 L298.4 305.8 L212.2 327.9 L151.5 344.9 L122.4 355.0 L107.9 361.0 L97.5 366.0 M531.9 80.0 L518.9 119.1 L503.5 159.3 L495.4 185.4 L491.1 195.4 L483.4 207.4 L475.0 217.5 L460.3 230.5 L447.7 239.6 L421.0 255.6 L395.2 269.7 L371.8 280.7 L348.8 289.7 L322.2 298.8 L298.9 305.8 L213.0 327.9 L152.0 344.9 L122.7 355.0 L97.5 366.0 M533.2 80.0 L518.6 121.1 L506.7 160.3 L501.7 172.3 L495.3 184.4 L485.4 199.4 L464.2 225.5 L452.2 236.5 L436.8 247.6 L418.6 258.6 L396.6 269.7 L359.6 285.7 L330.5 296.8 L298.1 306.8 L214.4 327.9 L156.5 343.9 L126.1 354.0 L110.9 360.0 L97.6 366.0 M534.2 80.0 L525.2 110.1 L514.9 139.2 L503.1 168.3 L485.0 208.4 L480.7 214.5 L472.4 222.5 L455.2 236.5 L439.5 247.6 L419.4 259.6 L397.2 270.7 L367.1 283.7 L337.5 294.8 L316.0 301.8 L298.6 306.8 L215.5 327.9 L158.0 343.9 L127.4 354.0 L97.8 366.0 M535.1 80.0 L520.7 120.1 L503.1 176.3 L496.9 191.4 L489.5 202.4 L472.8 222.5 L463.4 231.5 L452.4 239.6 L422.1 257.6 L397.6 270.7 L371.4 282.7 L345.5 292.7 L321.7 300.8 L301.1 306.8 L217.5 327.9 L155.3 344.9 L125.0 355.0 L98.4 366.0 M536.0 80.0 L513.0 158.3 L506.8 175.3 L501.1 187.4 L495.2 196.4 L468.7 227.5 L459.8 235.5 L447.2 244.6 L425.7 257.6 L404.0 268.7 L369.6 283.7 L338.0 295.8 L302.6 306.8 L219.3 327.9 L157.7 344.9 L126.9 355.0 L98.9 366.0 M536.9 80.0 L531.6 100.1 L524.9 121.1 L508.1 161.3 L501.1 184.4 L497.9 192.4 L492.8 200.4 L474.1 225.5 L467.1 232.5 L456.1 240.6 L426.9 257.6 L403.7 269.7 L376.9 281.7 L348.2 292.7 L324.2 300.8 L307.2 305.8 L221.1 327.9 L163.6 343.9 L128.9 355.0 L99.5 366.0 M537.8 80.0 L527.3 115.1 L514.7 152.3 L506.8 172.3 L492.7 203.4 L487.4 212.5 L480.6 220.5 L468.7 231.5 L459.0 238.6 L428.1 256.6 L401.5 270.7 L375.0 282.7 L348.9 292.7 L325.2 300.8 L305.1 306.8 L220.7 328.9 L155.6 346.9 L127.4 356.0 L100.0 366.0 M538.7 80.0 L525.8 120.1 L516.9 151.2 L512.7 164.3 L507.6 176.3 L493.2 206.4 L488.2 213.5 L480.8 220.5 L458.0 238.6 L442.3 249.6 L423.8 260.6 L399.4 272.7 L369.1 285.7 L339.3 296.8 L303.3 307.8 L225.4 327.9 L167.6 343.9 L131.9 355.0 L100.5 366.0 M539.6 80.0 L516.6 157.3 L509.7 177.3 L504.6 189.4 L498.6 199.4 L479.8 224.5 L471.8 232.5 L462.2 239.6 L432.7 256.6 L408.6 268.7 L376.4 282.7 L344.6 294.8 L323.5 301.8 L303.1 307.8 L223.0 328.9 L157.4 346.9 L128.8 356.0 L101.1 366.0 M540.5 80.0 L526.9 120.1 L510.1 176.3 L504.9 190.4 L500.4 198.4 L483.2 224.5 L477.0 231.5 L470.5 236.5 L454.6 245.6 L403.2 271.7 L371.3 285.7 L342.5 296.8 L324.4 302.8 L303.5 308.8 L229.0 327.9 L162.4 345.9 L129.9 356.0 L101.6 366.0 M541.4 80.0 L530.2 121.1 L516.0 162.3 L510.2 183.4 L507.2 191.4 L502.8 198.4 L481.4 225.5 L474.2 232.5 L465.9 238.6 L432.3 257.6 L406.9 270.7 L377.7 283.7 L346.3 295.8 L328.4 301.8 L308.1 307.8 L227.4 328.9 L162.0 346.9 L132.3 356.0 L102.2 366.0 M542.3 80.0 L537.5 100.1 L531.6 121.1 L517.6 162.3 L512.2 182.4 L509.3 190.4 L505.6 196.4 L494.0 210.5 L482.9 227.5 L478.3 232.5 L470.2 238.6 L460.1 244.6 L435.7 257.6 L413.3 268.7 L376.3 284.7 L344.5 296.8 L326.4 302.8 L305.8 308.8 L229.5 328.9 L163.8 346.9 L133.6 356.0 L102.7 366.0 M543.2 80.0 L517.9 163.3 L510.8 183.4 L503.3 201.4 L497.7 211.5 L490.5 220.5 L480.0 230.5 L469.2 238.6 L457.7 245.6 L437.8 256.6 L413.7 268.7 L374.6 285.7 L342.8 297.8 L307.2 308.8 L231.1 328.9 L165.6 346.9 L103.3 366.0 M544.1 80.0 L518.4 161.3 L511.9 184.4 L508.6 193.4 L501.2 206.4 L490.0 222.5 L481.5 231.5 L472.1 238.6 L460.5 245.6 L440.2 256.6 L418.0 267.7 L381.0 283.7 L346.5 296.8 L328.3 302.8 L304.3 309.8 L158.1 348.9 L103.8 366.0 M545.0 80.0 L530.4 121.1 L511.8 186.4 L504.7 207.4 L501.3 213.5 L496.0 219.5 L483.3 230.5 L474.9 236.5 L452.4 249.6 L410.0 271.7 L380.8 284.7 L349.3 296.8 L331.2 302.8 L307.0 309.8 L234.0 328.9 L163.9 347.9 L104.3 366.0 M545.9 80.0 L540.8 100.1 L534.4 121.1 L518.2 161.3 L516.1 169.3 L513.0 186.4 L510.7 193.4 L505.4 201.4 L491.4 219.5 L485.2 226.5 L475.3 235.5 L462.5 244.6 L440.6 257.6 L418.2 268.7 L373.7 287.7 L341.4 299.8 L301.4 311.8 L158.9 349.9 L104.9 366.0 M546.8 80.0 L532.9 121.1 L517.8 163.3 L509.6 190.4 L506.0 204.4 L503.4 211.5 L499.9 216.5 L492.7 223.5 L479.5 234.5 L466.6 243.6 L441.3 258.6 L417.2 270.7 L382.2 285.7 L349.4 297.8 L313.4 308.8 L178.2 344.9 L105.4 366.0 M547.7 80.0 L535.3 120.1 L520.1 174.3 L513.9 191.4 L506.0 204.4 L491.4 223.5 L481.1 233.5 L468.6 242.6 L443.1 257.6 L418.9 269.7 L377.1 287.7 L344.9 299.8 L311.7 309.8 L194.9 340.9 L106.0 366.0 M548.6 80.0 L529.2 147.2 L522.8 166.3 L513.6 188.4 L509.6 205.4 L507.5 211.5 L504.5 215.5 L499.0 220.5 L477.7 236.5 L463.1 246.6 L441.0 259.6 L416.3 271.7 L378.7 287.7 L345.9 299.8 L305.8 311.8 L170.4 347.9 L106.5 366.0 M549.5 80.0 L541.7 104.1 L535.2 127.2 L526.3 163.3 L522.0 185.4 L519.0 194.4 L515.7 200.4 L510.9 207.4 L500.1 220.5 L486.9 232.5 L471.4 243.6 L447.5 257.6 L422.8 269.7 L382.6 286.7 L347.1 299.8 L313.8 309.8 L237.8 329.9 L107.0 366.0 M550.4 80.0 L544.5 101.1 L537.6 122.1 L525.3 147.2 L521.7 157.3 L520.6 165.3 L521.2 190.4 L519.9 195.4 L515.3 202.4 L504.5 215.5 L497.8 222.5 L485.3 233.5 L469.7 244.6 L449.6 256.6 L429.4 266.7 L376.2 289.7 L347.1 300.8 L313.7 310.8 L176.2 346.9 L107.6 366.0 M551.3 80.0 L537.1 122.1 L525.4 146.2 L521.7 156.3 L520.4 165.3 L522.1 188.4 L522.0 191.4 L521.2 194.4 L518.3 199.4 L497.7 225.5 L489.4 233.5 L479.5 240.6 L451.8 256.6 L427.4 268.7 L380.9 288.7 L348.5 300.8 L311.2 311.8 L242.1 329.9 L108.1 366.0 M552.2 80.0 L544.6 99.1 L539.3 115.1 L535.9 128.2 L530.3 157.3 L526.9 171.3 L521.8 188.4 L516.0 203.4 L510.5 213.5 L503.1 222.5 L491.3 233.5 L478.8 242.6 L454.9 256.6 L436.4 265.6 L379.8 289.7 L350.4 300.8 L316.6 310.8 L243.0 329.9 L108.7 366.0 M553.1 80.0 L548.8 100.1 L542.6 122.1 L530.3 150.2 L527.1 159.3 L525.5 167.3 L523.3 190.4 L520.2 200.4 L514.0 212.5 L508.0 220.5 L496.8 231.5 L485.8 239.6 L457.6 255.6 L435.1 266.7 L383.6 288.7 L351.3 300.8 L317.3 310.8 L247.5 328.9 L170.5 349.9 L109.2 366.0 M554.0 80.0 L530.9 154.3 L528.2 166.3 L525.5 188.4 L523.1 196.4 L514.9 211.5 L507.4 222.5 L499.1 231.5 L488.4 239.6 L460.0 255.6 L441.2 264.6 L381.1 289.7 L351.5 300.8 L332.4 306.8 L303.9 314.8 L109.8 366.0 M554.9 80.0 L550.6 100.1 L545.2 121.1 L534.5 149.2 L531.4 159.3 L530.1 167.3 L528.6 188.4 L527.5 193.4 L524.1 199.4 L505.0 225.5 L498.2 232.5 L488.5 239.6 L457.9 256.6 L437.1 266.7 L383.1 289.7 L353.5 300.8 L334.3 306.8 L309.1 313.8 L110.3 366.0 M555.9 80.0 L544.6 121.1 L533.8 149.2 L530.8 158.3 L529.0 167.3 L526.2 191.4 L524.6 197.4 L521.9 204.4 L517.1 213.5 L509.3 222.5 L496.0 234.5 L481.9 244.6 L461.4 256.6 L442.4 265.6 L381.6 290.7 L351.4 301.8 L328.5 308.8 L299.4 316.8 L185.9 346.9 L110.8 366.0 M557.0 80.0 L536.7 150.2 L527.4 189.4 L522.3 204.4 L517.2 214.5 L510.2 223.5 L501.0 232.5 L489.9 240.6 L461.8 256.6 L441.1 266.7 L388.9 288.7 L356.2 300.8 L319.3 311.8 L202.8 342.9 L111.4 366.0 M558.2 80.0 L553.2 101.1 L547.4 122.1 L536.9 147.2 L533.6 157.3 L532.5 164.3 L532.0 191.4 L530.5 196.4 L527.5 201.4 L518.1 214.5 L509.6 224.5 L497.5 235.5 L483.2 245.6 L464.4 256.6 L447.6 264.6 L377.8 293.7 L352.8 302.8 L321.8 311.8 L255.9 328.9 L185.6 347.9 L111.9 366.0 M559.3 80.0 L555.2 100.1 L550.0 121.1 L537.6 160.3 L531.8 186.4 L528.6 196.4 L521.1 211.5 L513.2 223.5 L504.9 232.5 L495.4 239.6 L466.8 255.6 L448.1 264.6 L384.3 291.7 L357.2 301.8 L319.8 312.8 L205.7 342.9 L112.5 366.0 M560.4 80.0 L548.0 124.2 L532.6 187.4 L529.0 199.4 L525.9 207.4 L521.2 215.5 L513.6 223.5 L499.6 235.5 L485.1 245.6 L464.5 257.6 L445.4 266.7 L385.2 291.7 L354.6 302.8 L316.7 313.8 L203.4 343.9 L159.8 355.0 L113.0 366.0 M561.5 80.0 L552.3 110.1 L543.0 145.2 L539.1 163.3 L535.9 186.4 L533.9 194.4 L528.9 204.4 L518.1 221.5 L510.1 230.5 L500.9 237.6 L481.3 248.6 L459.8 259.6 L442.9 267.7 L389.3 290.7 L359.5 301.8 L322.0 312.8 L204.3 343.9 L160.6 355.0 L113.5 366.0 M562.7 80.0 L552.2 121.1 L540.2 158.3 L538.2 167.3 L534.4 192.4 L532.1 201.4 L529.0 209.5 L525.0 215.5 L518.6 221.5 L498.4 237.6 L483.9 247.6 L466.7 257.6 L449.7 265.6 L383.1 293.7 L355.3 303.8 L324.2 312.8 L195.9 346.9 L159.1 356.0 L114.1 366.0 M563.8 80.0 L552.6 121.1 L540.7 161.3 L531.7 201.4 L529.0 210.5 L525.1 218.5 L519.3 226.5 L513.6 232.5 L506.5 237.6 L491.8 245.6 L449.9 265.6 L386.4 292.7 L359.2 302.8 L321.9 313.8 L212.1 342.9 L167.7 354.0 L114.6 366.0 M564.9 80.0 L553.9 120.1 L537.1 177.3 L533.6 191.4 L531.1 205.4 L529.3 211.5 L525.3 217.5 L518.2 224.5 L505.3 235.5 L491.0 245.6 L470.4 257.6 L451.2 266.7 L388.4 292.7 L357.4 303.8 L319.3 314.8 L213.1 342.9 L168.5 354.0 L115.2 366.0 M566.0 80.0 L555.6 121.1 L543.9 159.3 L537.6 190.4 L535.0 200.4 L532.1 208.4 L528.2 215.5 L520.1 224.5 L508.9 234.5 L496.1 243.6 L475.4 255.6 L460.9 262.6 L383.5 294.8 L358.5 303.8 L320.5 314.8 L203.4 345.9 L161.8 356.0 L115.7 366.0 M567.2 80.0 L549.2 142.2 L543.4 165.3 L538.1 190.4 L532.8 208.4 L528.6 216.5 L522.1 224.5 L513.7 232.5 L505.2 238.6 L485.3 249.6 L452.9 265.6 L392.9 291.7 L363.6 302.8 L322.9 314.8 L209.7 344.9 L168.0 355.0 L116.2 366.0 M568.3 80.0 L564.6 100.1 L559.1 122.1 L555.9 131.2 L547.5 151.2 L544.2 161.3 L542.7 169.3 L540.1 190.4 L536.1 205.4 L531.8 215.5 L526.9 223.5 L520.0 231.5 L513.4 236.5 L498.9 244.6 L450.7 267.7 L394.8 291.7 L365.1 302.8 L324.2 314.8 L214.1 343.9 L168.2 355.0 L116.8 366.0 M569.4 80.0 L565.6 100.1 L560.1 122.1 L547.0 158.3 L541.7 177.3 L539.2 189.4 L537.6 206.4 L536.4 212.5 L532.9 217.5 L527.7 222.5 L514.1 233.5 L503.9 240.6 L477.4 255.6 L458.8 264.6 L393.5 292.7 L363.6 303.8 L325.8 314.8 L209.1 345.9 L166.3 356.0 L117.3 366.0 M570.5 80.0 L567.3 100.1 L562.3 122.1 L558.9 133.2 L548.0 164.3 L536.2 210.5 L532.7 217.5 L527.3 224.5 L520.6 231.5 L513.8 236.5 L497.4 245.6 L465.1 261.6 L443.6 271.7 L397.1 291.7 L367.2 302.8 L323.1 315.8 L213.9 344.9 L171.4 355.0 L117.9 366.0 M571.7 80.0 L564.5 112.1 L555.7 144.2 L548.4 166.3 L541.0 181.4 L538.8 187.4 L538.0 192.4 L536.9 209.5 L535.8 214.5 L532.6 220.5 L527.2 227.5 L522.4 232.5 L516.8 236.5 L505.5 242.6 L429.3 278.7 L394.1 293.7 L366.2 303.8 L324.9 315.8 L211.4 345.9 L168.1 356.0 L118.4 366.0 M572.8 80.0 L565.2 100.1 L560.3 117.1 L557.9 129.2 L554.2 156.3 L551.9 167.3 L543.4 190.4 L538.1 206.4 L533.6 216.5 L528.0 225.5 L521.8 232.5 L514.8 237.6 L503.9 243.6 L469.5 260.6 L441.7 273.7 L398.2 292.7 L368.2 303.8 L330.4 314.8 L213.0 345.9 L169.4 356.0 L119.0 366.0 M573.9 80.0 L562.6 120.1 L552.2 163.3 L550.1 169.3 L544.0 182.4 L542.3 187.4 L540.8 209.5 L539.9 213.5 L536.8 218.5 L532.1 223.5 L523.4 231.5 L516.4 236.5 L500.0 245.6 L442.9 273.7 L400.0 292.7 L370.3 303.8 L329.3 315.8 L215.5 345.9 L171.2 356.0 L119.5 366.0 M575.0 80.0 L570.4 104.1 L564.3 129.2 L540.2 204.4 L534.4 220.5 L531.1 227.5 L527.5 232.5 L522.2 236.5 L511.1 242.6 L438.2 276.7 L398.8 293.7 L371.1 303.8 L333.1 314.8 L215.3 345.9 L171.3 356.0 L120.0 366.0 M576.2 80.0 L567.4 100.1 L561.7 117.1 L558.8 130.2 L552.8 166.3 L541.2 209.5 L537.3 217.5 L531.5 225.5 L524.9 232.5 L517.8 237.6 L507.0 243.6 L473.1 260.6 L443.3 274.7 L399.8 293.7 L369.4 304.8 L328.0 316.8 L218.5 345.9 L173.7 356.0 L120.6 366.0 M577.3 80.0 L567.0 113.1 L555.6 153.3 L551.4 171.3 L544.9 204.4 L543.0 211.5 L539.5 218.5 L534.3 225.5 L528.8 231.5 L522.0 236.5 L507.2 244.6 L446.4 273.7 L401.1 293.7 L371.0 304.8 L329.7 316.8 L219.6 345.9 L174.5 356.0 L121.1 366.0 M578.4 80.0 L571.7 100.1 L566.2 119.1 L556.3 163.3 L553.9 170.3 L545.8 188.4 L540.1 212.5 L536.4 220.5 L531.8 227.5 L527.4 232.5 L522.0 236.5 L511.1 242.6 L436.9 278.7 L400.5 294.8 L372.8 304.8 L331.2 316.8 L220.6 345.9 L175.3 356.0 L121.7 366.0 M579.5 80.0 L571.2 113.1 L559.7 154.3 L555.3 167.3 L548.1 182.4 L545.8 188.4 L542.9 207.4 L541.2 214.5 L538.1 221.5 L533.7 228.5 L530.4 232.5 L525.1 236.5 L514.1 242.6 L466.1 265.6 L416.0 288.7 L394.8 297.8 L374.9 304.8 L336.7 315.8 L218.1 346.9 L176.8 356.0 L122.2 366.0 M580.7 80.0 L577.1 100.1 L572.2 122.1 L567.1 141.2 L561.6 158.3 L557.3 169.3 L547.0 190.4 L534.4 226.5 L531.5 231.5 L525.5 236.5 L516.3 241.6 L489.8 253.6 L454.1 271.7 L428.3 283.7 L400.3 295.8 L375.0 304.8 L333.5 316.8 L223.6 345.9 L183.0 355.0 L122.7 366.0 M581.7 80.0 L562.7 159.3 L559.2 169.3 L548.8 189.4 L543.0 211.5 L538.9 219.5 L533.0 227.5 L527.1 233.5 L519.9 238.6 L476.5 261.6 L447.6 275.7 L407.8 293.7 L392.5 299.8 L377.8 304.8 L339.6 315.8 L221.3 346.9 L179.4 356.0 L123.3 366.0 M582.4 80.0 L572.2 121.1 L563.8 160.3 L560.6 169.3 L552.5 183.4 L550.1 188.4 L548.5 194.4 L546.4 207.4 L544.9 212.5 L541.3 219.5 L535.3 227.5 L530.5 232.5 L523.5 237.6 L512.6 243.6 L473.1 263.6 L441.9 278.7 L405.8 294.8 L378.2 304.8 L337.1 316.8 L227.2 345.9 L185.9 355.0 L123.8 366.0 M583.2 80.0 L568.0 145.2 L562.3 164.3 L559.4 170.3 L550.6 183.4 L547.9 188.4 L546.0 194.4 L542.4 210.5 L537.2 223.5 L532.1 231.5 L524.6 237.6 L515.6 242.6 L464.2 268.7 L430.6 284.7 L403.0 296.8 L377.5 305.8 L339.4 316.8 L225.7 346.9 L183.0 356.0 L124.4 366.0 M583.9 80.0 L580.3 102.1 L574.3 127.2 L568.7 144.2 L560.7 165.3 L552.4 181.4 L549.9 187.4 L548.6 193.4 L547.0 208.4 L545.2 215.5 L542.1 222.5 L537.7 229.5 L535.1 232.5 L529.8 236.5 L518.8 242.6 L495.2 253.6 L467.1 267.7 L424.0 287.7 L400.5 297.8 L377.7 305.8 L332.7 318.8 L229.8 345.9 L182.7 356.0 L124.9 366.0 M584.7 80.0 L582.6 97.1 L579.0 116.1 L575.9 129.2 L571.3 144.2 L562.8 167.3 L553.5 188.4 L548.0 208.4 L543.9 219.5 L541.0 225.5 L537.7 230.5 L531.8 235.5 L520.6 241.6 L491.6 254.6 L456.1 273.7 L435.5 283.7 L407.6 295.8 L382.4 304.8 L341.0 316.8 L227.9 346.9 L185.0 356.0 L125.5 366.0 M585.5 80.0 L567.9 158.3 L564.1 169.3 L556.6 183.4 L553.9 189.4 L548.7 211.5 L544.6 219.5 L538.5 227.5 L532.6 233.5 L525.4 238.6 L478.2 263.6 L425.6 288.7 L405.1 297.8 L382.5 305.8 L344.1 316.8 L229.3 346.9 L186.0 356.0 L126.0 366.0 M586.2 80.0 L583.5 99.1 L579.1 121.1 L574.8 138.2 L569.8 154.3 L564.9 167.3 L556.0 182.4 L553.2 188.4 L552.0 193.4 L549.7 209.5 L546.9 217.5 L543.6 223.5 L539.3 229.5 L536.5 232.5 L532.3 235.5 L522.9 240.6 L492.1 254.6 L456.6 274.7 L436.7 284.7 L411.5 295.8 L386.5 304.8 L348.5 315.8 L230.1 346.9 L186.7 356.0 L126.5 366.0 M587.0 80.0 L567.8 158.3 L564.8 168.3 L556.5 189.4 L551.5 211.5 L547.9 218.5 L542.6 225.5 L537.0 231.5 L530.2 236.5 L464.3 271.7 L444.2 281.7 L412.6 295.8 L384.6 305.8 L343.0 317.8 L232.6 346.9 L188.7 356.0 L127.1 366.0 M587.7 80.0 L570.2 151.2 L566.0 166.3 L556.8 189.4 L551.5 208.4 L546.3 224.5 L542.5 231.5 L536.2 236.5 L526.6 241.6 L497.3 254.6 L457.4 275.7 L428.2 289.7 L407.0 298.8 L383.9 306.8 L334.4 320.8 L236.9 345.9 L188.1 356.0 L127.6 366.0 M588.5 80.0 L578.0 120.1 L572.3 150.2 L569.5 162.3 L566.6 170.3 L559.2 183.4 L556.9 188.4 L552.0 211.5 L548.7 217.5 L542.8 224.5 L534.4 232.5 L527.1 237.6 L495.3 254.6 L463.5 272.7 L446.0 281.7 L415.1 295.8 L387.7 305.8 L339.5 319.8 L267.8 338.9 L239.3 345.9 L190.2 356.0 L128.2 366.0 M589.2 80.0 L580.5 117.1 L574.8 153.3 L571.5 167.3 L568.5 173.3 L557.8 190.4 L542.2 225.5 L537.1 232.5 L530.4 237.6 L497.4 254.6 L462.7 273.7 L440.5 284.7 L413.5 296.8 L388.5 305.8 L343.6 318.8 L264.7 339.9 L236.2 346.9 L191.5 356.0 L128.7 366.0 M590.0 80.0 L575.9 144.2 L572.3 158.3 L568.7 169.3 L552.5 205.4 L543.8 222.5 L537.2 231.5 L527.9 238.6 L498.3 254.6 L468.6 271.7 L449.1 281.7 L417.3 295.8 L386.3 306.8 L337.6 320.8 L266.5 339.9 L238.1 346.9 L193.0 356.0 L129.2 366.0 M590.7 80.0 L585.2 100.1 L580.9 118.1 L575.1 154.3 L572.0 167.3 L569.7 172.3 L560.5 189.4 L554.5 208.4 L548.8 222.5 L542.9 231.5 L536.4 236.5 L527.1 241.6 L499.3 254.6 L464.0 274.7 L442.1 285.7 L414.5 297.8 L388.9 306.8 L336.5 321.8 L272.1 338.9 L243.4 345.9 L220.2 350.9 L193.4 356.0 L129.8 366.0 M591.5 80.0 L581.5 121.1 L573.0 160.3 L570.0 169.3 L560.5 188.4 L555.3 212.5 L551.9 219.5 L546.3 227.5 L541.7 232.5 L534.7 237.6 L501.5 254.6 L464.8 274.7 L436.7 288.7 L413.9 298.8 L391.0 306.8 L352.3 317.8 L265.2 340.9 L240.7 346.9 L195.3 356.0 L130.3 366.0 M592.2 80.0 L581.0 143.2 L578.2 156.3 L575.1 167.3 L564.7 189.4 L558.1 207.4 L552.0 220.5 L545.0 230.5 L537.4 236.5 L528.3 241.6 L501.6 254.6 L466.7 274.7 L447.1 284.7 L420.1 296.8 L392.0 306.8 L343.0 320.8 L271.4 339.9 L242.6 346.9 L196.6 356.0 L130.9 366.0 M593.0 80.0 L585.4 116.1 L576.1 156.3 L570.0 178.3 L562.5 200.4 L557.2 212.5 L550.2 223.5 L543.1 231.5 L533.4 238.6 L474.0 271.7 L452.6 282.7 L423.8 295.8 L393.2 306.8 L340.6 321.8 L272.3 339.9 L243.2 346.9 L197.0 356.0 L131.4 366.0 M593.7 80.0 L587.8 97.1 L583.0 113.1 L579.6 127.2 L572.3 165.3 L559.8 206.4 L555.4 216.5 L550.4 224.5 L544.5 231.5 L537.7 236.5 L502.0 254.6 L468.3 274.7 L447.3 285.7 L420.5 297.8 L395.2 306.8 L346.5 320.8 L274.8 339.9 L245.8 346.9 L199.1 356.0 L131.9 366.0 M594.5 80.0 L583.2 120.1 L576.6 152.3 L573.5 164.3 L571.6 169.3 L565.0 181.4 L562.6 187.4 L561.3 210.5 L560.6 213.5 L557.4 218.5 L552.6 223.5 L542.5 232.5 L533.8 238.6 L476.6 270.7 L441.7 288.7 L419.6 298.8 L394.2 307.8 L340.8 322.8 L275.8 339.9 L246.2 346.9 L199.3 356.0 L132.5 366.0 M595.2 80.0 L589.0 100.1 L585.2 116.1 L583.3 128.2 L580.7 155.3 L578.5 167.3 L575.0 174.3 L565.4 188.4 L561.3 196.4 L555.2 210.5 L550.9 224.5 L548.3 230.5 L545.8 233.5 L540.4 237.6 L531.2 242.6 L506.5 254.6 L472.1 274.7 L450.5 285.7 L422.9 297.8 L394.3 307.8 L345.2 321.8 L277.9 339.9 L249.1 346.9 L224.9 352.0 L202.0 356.0 L133.0 366.0 M596.0 80.0 L592.3 102.1 L587.1 126.2 L570.5 183.4 L566.8 194.4 L560.2 209.5 L552.0 223.5 L545.3 231.5 L535.8 238.6 L473.3 273.7 L444.5 288.7 L420.1 299.8 L397.1 307.8 L354.8 319.8 L278.9 339.9 L249.9 346.9 L225.6 352.0 L202.6 356.0 L133.6 366.0 M596.7 80.0 L592.5 104.1 L586.9 131.2 L582.1 151.2 L577.1 168.3 L568.7 189.4 L562.7 208.4 L558.7 217.5 L555.2 223.5 L550.7 229.5 L547.8 232.5 L542.3 236.5 L533.4 241.6 L507.6 254.6 L474.3 274.7 L455.2 284.7 L425.7 297.8 L394.3 308.8 L334.4 325.9 L284.7 338.9 L255.1 345.9 L231.0 350.9 L202.6 356.0 L134.1 366.0 M597.5 80.0 L582.8 148.2 L577.8 167.3 L570.5 189.4 L566.1 210.5 L563.4 215.5 L557.9 221.5 L546.3 231.5 L539.0 236.5 L506.6 254.6 L476.0 273.7 L457.8 283.7 L429.4 296.8 L398.8 307.8 L346.4 322.8 L282.4 339.9 L253.1 346.9 L228.5 352.0 L205.2 356.0 L134.7 366.0 M598.2 80.0 L588.8 122.1 L583.1 151.2 L579.4 165.3 L576.9 171.3 L567.8 188.4 L562.9 209.5 L558.1 223.5 L553.5 231.5 L547.2 236.5 L537.7 241.6 L509.7 254.6 L474.3 275.7 L452.8 286.7 L425.1 298.8 L393.3 309.8 L366.4 317.8 L326.1 328.9 L284.4 339.9 L254.6 346.9 L229.7 352.0 L206.2 356.0 L135.2 366.0 M599.0 80.0 L596.7 99.1 L592.0 123.2 L588.3 135.2 L578.8 160.3 L570.8 183.4 L568.8 191.4 L566.7 206.4 L565.3 212.5 L562.0 218.5 L556.4 225.5 L550.5 231.5 L543.5 236.5 L509.4 254.6 L478.4 274.7 L460.4 284.7 L434.1 296.8 L406.4 306.8 L357.2 320.8 L284.5 339.9 L255.0 346.9 L230.2 352.0 L206.7 356.0 L135.7 366.0 M599.7 80.0 L596.1 103.1 L590.7 130.2 L585.9 150.2 L580.9 166.3 L570.2 188.4 L565.4 208.4 L562.2 216.5 L557.7 223.5 L551.8 230.5 L548.5 233.5 L542.6 237.6 L510.2 254.6 L476.1 275.7 L455.6 286.7 L429.2 298.8 L400.9 308.8 L340.8 325.9 L287.7 339.9 L257.9 346.9 L232.8 352.0 L208.9 356.0 L136.3 366.0 M600.5 80.0 L597.3 101.1 L592.1 125.2 L579.4 163.3 L566.0 207.4 L561.2 217.5 L554.8 226.5 L549.2 232.5 L540.6 238.6 L511.4 254.6 L480.5 274.7 L464.3 283.7 L435.8 296.8 L405.1 307.8 L352.6 322.8 L288.6 339.9 L259.3 346.9 L234.4 352.0 L210.4 356.0 L136.8 366.0 M601.2 80.0 L596.1 99.1 L592.0 117.1 L586.4 154.3 L583.4 167.3 L581.0 172.3 L573.9 183.4 L571.4 188.4 L569.8 193.4 L567.0 208.4 L563.5 216.5 L559.1 222.5 L551.8 230.5 L547.2 234.5 L539.8 239.6 L513.7 254.6 L481.4 274.7 L459.4 286.7 L433.5 298.8 L408.0 307.8 L376.7 316.8 L293.5 338.9 L256.1 347.9 L211.8 356.0 L137.4 366.0 M602.0 80.0 L595.3 99.1 L591.2 115.1 L589.3 128.2 L587.0 156.3 L585.1 167.3 L582.4 172.3 L573.9 183.4 L571.2 188.4 L570.3 193.4 L568.9 210.5 L566.5 216.5 L561.8 222.5 L554.0 230.5 L549.2 234.5 L543.1 238.6 L516.1 253.6 L482.4 274.7 L464.0 284.7 L435.7 297.8 L404.8 308.8 L377.9 316.8 L341.2 326.9 L291.7 339.9 L261.8 346.9 L236.4 352.0 L212.1 356.0 L137.9 366.0 M602.7 80.0 L590.5 146.2 L587.5 159.3 L584.5 169.3 L575.8 188.4 L569.8 207.4 L565.5 216.5 L560.6 223.5 L554.5 230.5 L549.9 234.5 L542.4 239.6 L515.8 254.6 L482.6 275.7 L466.0 284.7 L437.2 297.8 L406.1 308.8 L346.0 325.9 L292.9 339.9 L263.0 346.9 L237.6 352.0 L213.2 356.0 L138.4 366.0 M603.5 80.0 L595.1 117.1 L589.9 154.3 L587.0 167.3 L584.5 172.3 L577.4 183.4 L575.0 188.4 L573.8 193.4 L571.4 209.5 L568.7 216.5 L564.6 222.5 L558.4 229.5 L555.2 232.5 L549.3 236.5 L514.3 254.6 L480.8 276.7 L460.9 287.7 L434.4 299.8 L408.6 308.8 L374.0 318.8 L302.6 337.9 L260.7 347.9 L240.1 352.0 L215.4 356.0 L139.0 366.0 M604.2 80.0 L596.8 122.1 L592.3 151.2 L589.0 166.3 L586.3 173.3 L578.2 189.4 L570.8 206.4 L564.2 218.5 L556.9 228.5 L549.1 235.5 L541.3 240.6 L516.6 254.6 L484.0 276.7 L471.6 283.7 L457.1 290.7 L440.6 297.8 L421.7 304.8 L378.8 317.8 L300.3 338.9 L266.6 346.9 L235.4 353.0 L195.2 359.0 L139.5 366.0 M605.0 80.0 L588.1 161.3 L585.5 170.3 L578.3 190.4 L574.1 207.4 L571.0 214.5 L567.4 219.5 L562.9 224.5 L551.7 234.5 L542.2 240.6 L516.0 255.6 L484.7 276.7 L472.2 283.7 L455.7 291.7 L436.5 299.8 L420.0 305.8 L377.4 318.8 L306.6 337.9 L273.2 345.9 L236.9 353.0 L196.3 359.0 L140.1 366.0 M605.5 80.0 L604.0 101.1 L600.2 128.2 L595.3 149.2 L588.4 171.3 L580.2 190.4 L573.8 207.4 L567.8 218.5 L562.6 225.5 L556.1 232.5 L549.7 237.6 L540.5 243.6 L492.8 272.7 L463.2 288.7 L450.7 294.8 L436.4 300.8 L407.1 310.8 L372.1 320.8 L307.9 337.9 L265.1 347.9 L244.1 352.0 L218.8 356.0 L140.6 366.0 M605.5 80.0 L602.8 101.1 L598.4 124.2 L587.4 161.3 L583.0 186.4 L581.1 194.4 L577.5 204.4 L573.4 212.5 L566.0 221.5 L552.4 233.5 L543.3 239.6 L516.2 255.6 L483.6 278.7 L471.2 285.7 L456.9 292.7 L440.3 299.8 L423.8 305.8 L383.7 317.8 L297.6 340.9 L267.3 347.9 L234.4 354.0 L191.4 360.0 L141.2 366.0 M605.5 80.0 L596.8 118.1 L591.8 153.3 L589.6 165.3 L587.6 171.3 L580.0 188.4 L575.9 208.4 L573.0 215.5 L565.3 225.5 L559.4 231.5 L555.6 234.5 L546.2 240.6 L519.5 255.6 L486.9 277.7 L472.7 285.7 L456.4 293.7 L439.9 300.8 L426.1 305.8 L386.4 317.8 L307.1 338.9 L272.7 346.9 L240.7 353.0 L199.2 359.0 L141.7 366.0 M605.5 80.0 L601.5 114.1 L595.3 148.2 L590.0 167.3 L581.3 183.4 L579.2 188.4 L576.5 208.4 L574.5 214.5 L567.9 222.5 L558.4 231.5 L553.3 235.5 L522.8 254.6 L492.2 274.7 L474.8 284.7 L459.3 292.7 L446.0 298.8 L430.4 304.8 L391.7 316.8 L316.7 336.9 L279.0 345.9 L242.0 353.0 L200.2 359.0 L142.2 366.0 M605.5 80.0 L597.7 141.2 L593.5 163.3 L590.7 171.3 L580.7 189.4 L575.0 207.4 L571.8 214.5 L564.1 225.5 L558.6 231.5 L554.0 235.5 L545.6 241.6 L496.0 273.7 L482.1 281.7 L464.5 290.7 L448.7 297.8 L430.3 304.8 L388.0 317.8 L313.6 337.9 L280.5 345.9 L243.7 353.0 L201.7 359.0 L142.8 366.0 M605.5 80.0 L604.1 99.1 L601.4 122.1 L598.8 138.2 L595.7 153.3 L591.5 169.3 L583.6 189.4 L578.2 207.4 L574.4 215.5 L567.2 225.5 L562.6 230.5 L558.0 234.5 L548.9 240.6 L524.6 254.6 L490.2 277.7 L474.5 286.7 L460.8 293.7 L444.9 300.8 L431.2 305.8 L394.5 316.8 L310.7 338.9 L276.4 346.9 L244.2 353.0 L202.1 359.0 L143.3 366.0 M605.5 80.0 L603.9 100.1 L601.1 124.2 L598.4 142.2 L595.0 159.3 L590.8 174.3 L579.6 204.4 L575.7 212.5 L568.2 222.5 L556.8 233.5 L548.2 239.6 L522.1 255.6 L500.1 271.7 L489.6 278.7 L475.4 286.7 L460.9 293.7 L444.3 300.8 L427.8 306.8 L385.0 319.8 L313.9 338.9 L279.1 346.9 L246.5 353.0 L203.7 359.0 L143.9 366.0 M605.5 80.0 L604.8 120.1 L603.7 128.2 L600.9 138.2 L591.8 163.3 L582.1 203.4 L578.8 212.5 L572.3 220.5 L557.5 233.5 L523.1 255.6 L500.6 272.7 L490.1 279.7 L477.5 286.7 L462.8 293.7 L445.8 300.8 L429.1 306.8 L385.7 319.8 L306.5 340.9 L275.3 347.9 L241.3 354.0 L196.7 360.0 L144.4 366.0 M605.5 80.0 L606.7 93.0 L607.2 108.1 L607.2 122.1 L606.1 130.2 L603.2 140.2 L594.7 163.3 L586.8 190.4 L582.6 200.4 L576.9 211.5 L568.4 224.5 L559.8 233.5 L551.3 239.6 L524.8 255.6 L492.6 278.7 L478.7 286.7 L464.5 293.7 L448.2 300.8 L431.9 306.8 L389.1 319.8 L317.3 338.9 L282.0 346.9 L248.9 353.0 L205.6 359.0 L144.9 366.0 M605.5 80.0 L605.8 121.1 L604.2 134.2 L601.3 145.2 L594.2 167.3 L585.1 189.4 L581.2 206.4 L578.4 213.5 L571.9 221.5 L557.6 234.5 L526.0 255.6 L504.0 271.7 L493.4 278.7 L479.5 286.7 L465.4 293.7 L449.2 300.8 L432.8 306.8 L393.1 318.8 L310.6 340.9 L279.4 347.9 L245.1 354.0 L199.3 360.0 L145.5 366.0 M605.5 80.0 L604.0 125.2 L602.5 139.2 L600.0 154.3 L597.5 166.3 L595.7 172.3 L588.4 190.4 L583.6 204.4 L580.3 211.5 L573.3 220.5 L560.6 232.5 L552.1 238.6 L525.1 255.6 L502.2 273.7 L492.1 280.7 L480.0 287.7 L465.9 294.8 L449.4 301.8 L435.4 306.8 L395.2 318.8 L311.5 340.9 L280.1 347.9 L245.5 354.0 L199.8 360.0 L146.0 366.0 M605.5 80.0 L606.9 106.1 L606.9 121.1 L606.2 128.2 L603.5 138.2 L594.4 163.3 L584.3 205.4 L581.3 213.5 L574.4 222.5 L562.9 233.5 L554.4 239.6 L529.3 255.6 L507.7 272.7 L497.6 279.7 L485.3 286.7 L470.7 293.7 L453.9 300.8 L437.2 306.8 L394.0 319.8 L317.8 339.9 L286.4 346.9 L253.0 353.0 L208.7 359.0 L146.6 366.0 M605.5 80.0 L606.5 93.0 L606.9 109.1 L606.9 122.1 L605.9 130.2 L602.6 142.2 L587.5 185.4 L585.7 192.4 L582.5 210.5 L580.2 217.5 L577.5 223.5 L572.6 231.5 L568.4 235.5 L561.2 240.6 L538.1 254.6 L515.3 273.7 L504.1 281.7 L491.8 288.7 L479.5 294.8 L462.8 301.8 L448.9 306.8 L404.8 319.8 L341.1 335.9 L299.6 344.9 L260.1 352.0 L216.9 358.0 L147.1 366.0 M605.5 80.0 L605.4 121.1 L604.4 132.2 L591.3 187.4 L587.0 209.5 L584.7 217.5 L581.9 224.5 L578.0 231.5 L574.1 235.5 L567.1 240.6 L544.8 254.6 L537.9 260.6 L523.9 274.7 L513.3 282.7 L502.3 288.7 L489.3 294.8 L469.5 302.8 L452.7 308.8 L413.3 320.8 L365.8 332.9 L321.3 341.9 L261.0 352.0 L208.6 359.0 L147.6 366.0 M605.5 80.0 L604.9 101.1 L603.1 128.2 L601.0 144.2 L597.1 166.3 L591.9 186.4 L591.7 192.4 L592.6 211.5 L590.9 218.5 L584.4 230.5 L580.2 235.5 L574.2 240.6 L554.9 254.6 L533.6 274.7 L521.4 283.7 L511.0 289.7 L496.6 296.8 L482.4 302.8 L466.1 308.8 L426.6 320.8 L377.9 332.9 L330.6 341.9 L266.4 352.0 L211.5 359.0 L148.2 366.0 M605.5 80.0 L607.0 92.0 L608.0 105.1 L608.3 121.1 L607.7 131.2 L597.5 196.4 L595.2 207.4 L592.8 215.5 L587.7 226.5 L581.7 235.5 L560.6 255.6 L543.5 274.7 L537.8 279.7 L532.2 283.7 L521.3 289.7 L508.3 295.8 L486.4 304.8 L467.4 311.8 L431.9 322.8 L391.3 332.9 L346.5 340.9 L270.6 352.0 L213.6 359.0 L148.7 366.0 M288.4 80.0 L286.0 121.5 L282.7 144.0 L280.5 167.0 L279.9 176.0 L277.0 205.0 L274.0 241.0 L271.0 270.0 L262.0 282.0 L240.0 296.0 L200.0 314.0 L160.0 333.0 L120.0 350.0 L95.0 361.0 L88.0 365.0"/>
<path fill="none" stroke="#000" stroke-width="2" d="M95.5 364.8 L103.8 359.8 L115.5 353.3 L127.3 348.0 L139.1 342.7 L150.8 338.0 L162.6 333.9 L172.0 330.9 L181.4 326.8 L192.7 322.3 L204.1 317.7 L215.5 313.2 L226.8 308.1 L238.2 303.0 L251.4 296.8 L262.7 291.1 L274.1 286.6 L285.5 282.0 L296.8 278.1 L311.4 271.8 L322.7 266.1 L334.1 260.5 L345.5 255.3 L356.8 250.2 L363.8 245.3 L371.8 240.5 L379.7 235.8 L387.7 230.2 L394.0 224.6 L400.4 219.9 L406.8 213.5 L411.5 205.0 L416.8 196.1 L422.7 188.7 L428.6 181.4 L432.3 174.0 L436.8 165.1 L441.2 156.2 L444.9 147.4 L448.0 139.5 L454.2 132.7 L458.0 123.7 L459.7 115.8 L460.8 110.1 L463.6 105.5 L467.6 99.9 L471.0 93.0 L473.3 86.2 L474.8 80.3"/><path fill="none" stroke="#000" stroke-width="2" d="M108.5 365.1 L115.5 360.9 L127.3 355.1 L139.1 349.2 L150.8 343.9 L162.6 338.6 L172.0 335.1 L181.4 330.2 L192.7 325.7 L204.1 321.1 L215.5 317.2 L226.8 313.2 L239.0 310.6 L251.4 305.9 L262.7 301.4 L274.1 296.8 L285.5 291.7 L296.8 287.2 L311.4 281.5 L322.7 275.8 L334.1 270.1 L345.5 264.4 L356.5 258.3 L363.8 252.5 L371.8 247.7 L379.7 240.5 L387.7 234.2 L392.5 228.6 L398.8 222.3 L405.2 215.9 L410.0 208.7 L414.7 201.6 L420.5 193.6 L427.2 184.3 L431.6 178.4 L436.0 171.8 L441.2 163.6 L447.1 154.8 L452.3 147.4 L457.4 140.0 L461.5 131.0 L465.9 123.7 L471.0 116.9 L476.1 111.2 L480.1 105.5 L483.5 98.7 L485.8 93.0 L487.5 86.2 L489.2 80.3"/><path fill="none" stroke="#0000ff" stroke-width="2" d="M97.3 365.1 L103.8 362.7 L115.5 357.4 L127.3 352.7 L139.1 348.0 L150.8 344.5 L162.6 341.5 L172.0 339.8 L181.4 337.0 L192.7 333.1 L204.1 329.7 L215.5 326.3 L226.8 324.0 L238.2 321.7 L245.0 320.6 L269.5 315.0 L285.5 309.9 L305.0 304.2 L330.0 296.6 L347.0 292.3 L364.1 284.7 L381.1 276.1 L398.2 268.5 L411.8 261.6 L420.0 257.3 L438.2 246.4 L456.4 234.5 L463.6 230.0 L470.9 221.8 L480.0 210.9 L487.3 201.8 L492.7 193.6 L498.2 183.6 L504.5 166.0 L510.0 152.4 L514.9 140.1 L516.8 127.8 L519.5 111.5 L522.3 95.1 L523.6 80.1"/>
<rect x="65.5" y="65.5" width="550" height="310" fill="none" stroke="#000" stroke-width="1"/>
<path d="M65 336.5h6M616 336.5h-6M65 307.5h6M616 307.5h-6M65 278.5h6M616 278.5h-6M65 249.5h6M616 249.5h-6M65 220.5h11M616 220.5h-11M65 191.5h6M616 191.5h-6M65 162.5h6M616 162.5h-6M65 133.5h6M616 133.5h-6M65 104.5h6M616 104.5h-6M65 75.5h11M616 75.5h-11M128.5 376v-6M128.5 65v6M181.5 376v-11M181.5 65v11M234.5 376v-6M234.5 65v6M287.5 376v-11M287.5 65v11M340.5 376v-6M340.5 65v6M393.5 376v-11M393.5 65v11M446.5 376v-6M446.5 65v6M499.5 376v-11M499.5 65v11M552.5 376v-6M552.5 65v6M605.5 376v-11M605.5 65v11" stroke="#000" stroke-width="1" fill="none"/>
</g>
<text x="348" y="30" text-anchor="middle" font-family="TeX Gyre Cursor, FreeMono, Liberation Mono, monospace" font-weight="bold" font-size="16" stroke="#000" stroke-width="0.3">T0954-D1</text>
<text x="334" y="420" text-anchor="middle" font-family="TeX Gyre Cursor, FreeMono, Liberation Mono, monospace" font-weight="bold" font-size="16" stroke="#000" stroke-width="0.3">Percent of Residues (CA)</text>
<text transform="translate(31 233.2) rotate(-90)" text-anchor="middle" letter-spacing="0.1" font-family="TeX Gyre Cursor, FreeMono, Liberation Mono, monospace" font-weight="bold" font-size="16" stroke="#000" stroke-width="0.3">Distance Cutoff, A</text>
<text x="64.5" y="395" text-anchor="middle" font-family="TeX Gyre Cursor, FreeMono, Liberation Mono, monospace" font-weight="bold" font-size="16" stroke="#000" stroke-width="0.3">0</text>
<text x="180" y="395" text-anchor="middle" font-family="TeX Gyre Cursor, FreeMono, Liberation Mono, monospace" font-weight="bold" font-size="16" stroke="#000" stroke-width="0.3">20</text>
<text x="286" y="395" text-anchor="middle" font-family="TeX Gyre Cursor, FreeMono, Liberation Mono, monospace" font-weight="bold" font-size="16" stroke="#000" stroke-width="0.3">40</text>
<text x="392" y="395" text-anchor="middle" font-family="TeX Gyre Cursor, FreeMono, Liberation Mono, monospace" font-weight="bold" font-size="16" stroke="#000" stroke-width="0.3">60</text>
<text x="499" y="395" text-anchor="middle" font-family="TeX Gyre Cursor, FreeMono, Liberation Mono, monospace" font-weight="bold" font-size="16" stroke="#000" stroke-width="0.3">80</text>
<text x="609" y="395" text-anchor="middle" font-family="TeX Gyre Cursor, FreeMono, Liberation Mono, monospace" font-weight="bold" font-size="16" stroke="#000" stroke-width="0.3">100</text>
<text transform="translate(55 375) rotate(-90)" text-anchor="middle" font-family="TeX Gyre Cursor, FreeMono, Liberation Mono, monospace" font-weight="bold" font-size="16" stroke="#000" stroke-width="0.3">0</text>
<text transform="translate(55 220.5) rotate(-90)" text-anchor="middle" font-family="TeX Gyre Cursor, FreeMono, Liberation Mono, monospace" font-weight="bold" font-size="16" stroke="#000" stroke-width="0.3">5</text>
<text transform="translate(55 65.3) rotate(-90)" text-anchor="middle" font-family="TeX Gyre Cursor, FreeMono, Liberation Mono, monospace" font-weight="bold" font-size="16" stroke="#000" stroke-width="0.3">10</text>
</svg>
</body></html>
